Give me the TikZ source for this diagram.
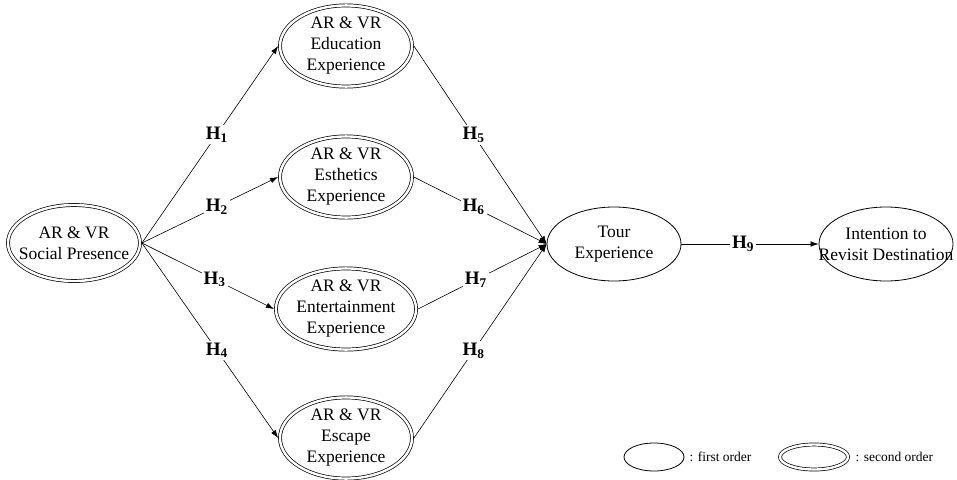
\documentclass[tikz,border=0pt]{standalone}
\usepackage{fontspec}
\setmainfont{Liberation Serif}
\usetikzlibrary{arrows.meta,shapes.geometric,positioning}

\begin{document}
\begin{tikzpicture}[x=1pt, y=-1pt, font=\fontsize{17.5}{21}\selectfont,
  first/.style={ellipse, draw, line width=0.8pt, inner sep=0pt, align=center, minimum width=134pt, minimum height=74pt},
  second/.style={ellipse, draw, double, double distance=2.4pt, line width=0.7pt, inner sep=0pt, outer sep=1.9pt, align=center, minimum width=132pt, minimum height=76pt},
  link/.style={-{Latex[length=8pt,width=5.5pt]}, line width=0.6pt},
  hyp/.style={fill=white, inner sep=2pt, font=\bfseries\fontsize{19}{21}\selectfont},
  legend/.style={anchor=west, inner sep=0pt, font=\fontsize{13.5}{16}\selectfont}]

  \useasboundingbox (0,0) rectangle (957,479);

  \node[second] (social) at (74,243) {AR \& VR\\\makebox[80pt]{Social Presence}};

  \node[second] (education) at (346,46) {AR \& VR\\Education\\Experience};
  \node[second] (esthetics) at (346,177) {AR \& VR\\Esthetics\\Experience};
  \node[second] (entertain) at (346,309) {AR \& VR\\Entertainment\\Experience};
  \node[second] (escape) at (346,438) {AR \& VR\\Escape\\Experience};

  \node[first] (tour) at (614,244) {Tour\\Experience};
  \node[first] (revisit) at (886,244) {Intention to\\\makebox[80pt]{Revisit Destination}};

  % hypotheses
  \draw[link] (social.east) -- node[hyp, pos=0.55] {H\textsubscript{1}} (education.west);
  \draw[link] (social.east) -- node[hyp, pos=0.55] {H\textsubscript{2}} (esthetics.west);
  \draw[link] (social.east) -- node[hyp, pos=0.55] {H\textsubscript{3}} (entertain.west);
  \draw[link] (social.east) -- node[hyp, pos=0.55] {H\textsubscript{4}} (escape.west);

  \draw[link] (education.east) -- node[hyp, pos=0.45] {H\textsubscript{5}} (tour.west);
  \draw[link] (esthetics.east) -- node[hyp, pos=0.45] {H\textsubscript{6}} (tour.west);
  \draw[link] (entertain.east) -- node[hyp, pos=0.45] {H\textsubscript{7}} (tour.west);
  \draw[link] (escape.east) -- node[hyp, pos=0.45] {H\textsubscript{8}} (tour.west);

  \draw[link] (tour.east) -- node[hyp, pos=0.45] {H\textsubscript{9}} (revisit.west);

  % legend
  \node[ellipse, draw, line width=0.8pt, minimum width=60pt, minimum height=28pt] (firstkey) at (654,457) {};
  \node[legend, right=5pt of firstkey.east] (firstlabel) {: first order};
  \node[ellipse, draw, double, double distance=2.4pt, line width=0.7pt, minimum width=68pt, minimum height=25pt] (secondkey) at (814,457) {};
  \node[legend, right=7pt of secondkey.east] (secondlabel) {: second order};

\end{tikzpicture}
\end{document}
